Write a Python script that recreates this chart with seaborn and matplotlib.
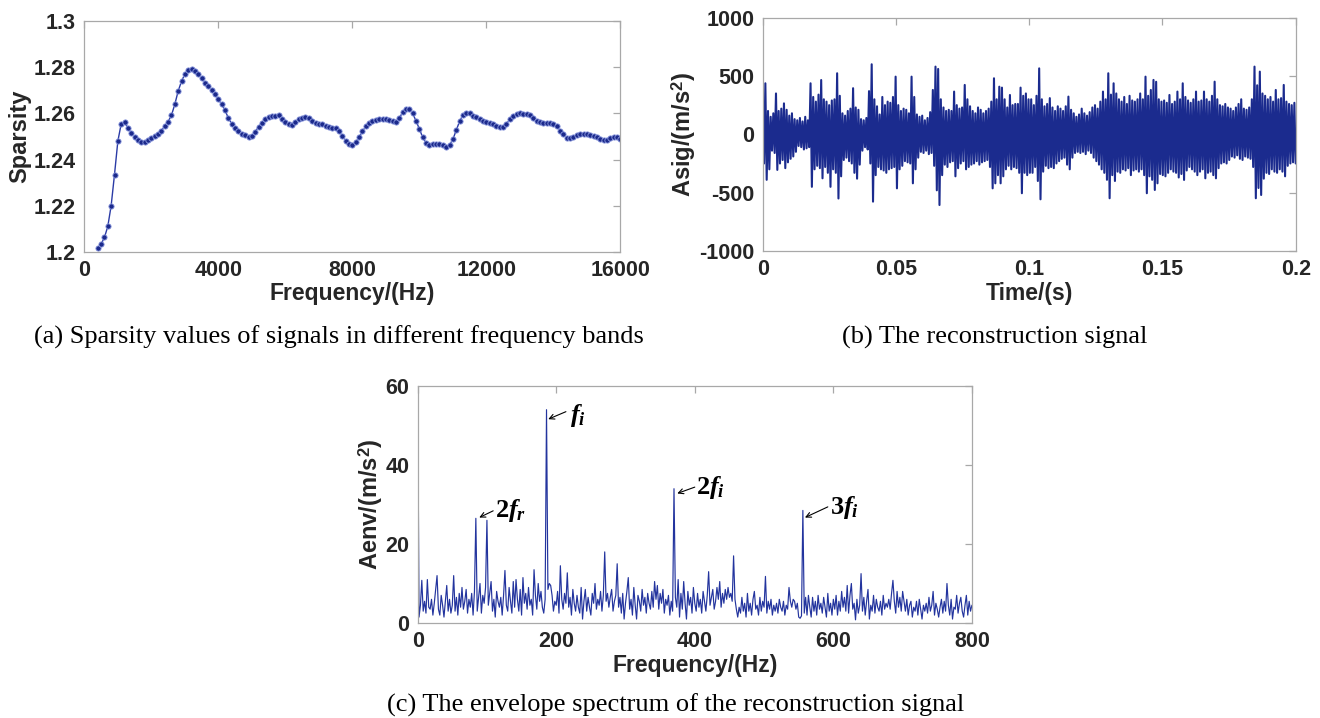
import numpy as np
import pandas as pd
import matplotlib
matplotlib.use('Agg')
import matplotlib.pyplot as plt
import seaborn as sns
from matplotlib.ticker import FormatStrFormatter

# (a) sparsity per frequency band, bands every 100 Hz from 400 Hz
sparsity = [
    1.2015, 1.2033, 1.2062, 1.2110, 1.2200, 1.2335, 1.2480, 1.2555, 1.2562, 1.2538,
    1.2515, 1.2498, 1.2485, 1.2477, 1.2475, 1.2484, 1.2493, 1.2501, 1.2511, 1.2526,
    1.2545, 1.2565, 1.2592, 1.2640, 1.2697, 1.2740, 1.2771, 1.2790, 1.2795, 1.2784,
    1.2771, 1.2753, 1.2734, 1.2720, 1.2703, 1.2683, 1.2661, 1.2640, 1.2613, 1.2580,
    1.2555, 1.2535, 1.2523, 1.2513, 1.2505, 1.2499, 1.2502, 1.2521, 1.2542, 1.2560,
    1.2575, 1.2585, 1.2590, 1.2591, 1.2593, 1.2578, 1.2562, 1.2553, 1.2552, 1.2564,
    1.2575, 1.2582, 1.2586, 1.2582, 1.2569, 1.2560, 1.2556, 1.2553, 1.2547, 1.2542,
    1.2539, 1.2536, 1.2525, 1.2503, 1.2482, 1.2468, 1.2465,
    1.2475, 1.2497, 1.2522, 1.2544, 1.2559, 1.2566, 1.2571, 1.2574, 1.2574, 1.2574,
    1.2572, 1.2568, 1.2565, 1.2580, 1.2605, 1.2620, 1.2620, 1.2600, 1.2568, 1.2533,
    1.2496, 1.2472, 1.2462, 1.2466, 1.2469, 1.2469, 1.2465, 1.2455, 1.2463, 1.2488,
    1.2527, 1.2566, 1.2594, 1.2602, 1.2601, 1.2591, 1.2583, 1.2575, 1.2569, 1.2564,
    1.2559, 1.2553, 1.2546, 1.2542, 1.2543, 1.2556, 1.2574, 1.2590, 1.2598, 1.2600,
    1.2598, 1.2596, 1.2593, 1.2581, 1.2569, 1.2561, 1.2557, 1.2560, 1.2558, 1.2555,
    1.2545, 1.2526, 1.2509, 1.2493, 1.2494, 1.2500, 1.2506, 1.2512, 1.2511, 1.2509,
    1.2506, 1.2503, 1.2497, 1.2490, 1.2484, 1.2486, 1.2495, 1.2500, 1.2497, 1.2490,
]

# (b) reconstruction signal: positive and negative swings, one pair per ms
sig_top = [
    300, 437, 200, 150, 180, 350, 200, 220, 265, 210,
    160, 180, 130, 120, 140, 110, 150, 120, 437, 320,
    280, 340, 465, 300, 280, 250, 290, 300, 523, 330,
    180, 160, 200, 220, 395, 230, 210, 130, 120, 140,
    370, 600, 300, 240, 170, 320, 250, 280, 270, 320,
    494, 250, 200, 220, 210, 180, 494, 320, 170, 150,
    160, 120, 140, 190, 380, 580, 560, 300, 230, 200,
    210, 200, 366, 250, 220, 230, 423, 300, 240, 200,
    180, 230, 210, 180, 200, 220, 280, 480, 300, 408,
    400, 300, 230, 337, 250, 260, 260, 400, 330, 350,
    300, 300, 250, 330, 565, 300, 240, 260, 310, 230,
    200, 240, 220, 200, 240, 323, 210, 180, 150, 170,
    220, 180, 160, 190, 230, 250, 220, 280, 366, 300,
    523, 340, 437, 350, 300, 280, 320, 260, 330, 290,
    280, 300, 350, 300, 494, 330, 380, 466, 450, 300,
    280, 290, 270, 337, 260, 280, 366, 300, 437, 320,
    290, 270, 300, 366, 280, 290, 366, 300, 280, 330,
    451, 300, 250, 240, 260, 230, 220, 200, 230, 260,
    300, 220, 210, 230, 300, 580, 420, 537, 350, 330,
    300, 320, 280, 380, 300, 310, 423, 280, 260, 250,
    270,
]
sig_bot = [
    250, 390, 300, 140, 160, 305, 250, 220, 290, 240,
    210, 190, 150, 100, 110, 130, 120, 110, 450, 300,
    270, 290, 377, 280, 330, 450, 300, 330, 550, 360,
    220, 200, 230, 250, 330, 380, 260, 140, 110, 130,
    250, 577, 350, 280, 300, 310, 330, 300, 290, 280,
    463, 300, 270, 230, 240, 250, 420, 300, 200, 150,
    160, 140, 170, 160, 270, 480, 606, 350, 260, 280,
    240, 230, 360, 290, 250, 230, 300, 280, 260, 250,
    230, 260, 240, 230, 220, 280, 463, 420, 350, 420,
    360, 300, 270, 300, 280, 290, 330, 505, 330, 350,
    330, 330, 280, 400, 557, 320, 270, 290, 280, 290,
    250, 230, 210, 200, 260, 300, 200, 160, 150, 160,
    150, 170, 140, 160, 200, 230, 260, 300, 330, 390,
    548, 350, 400, 320, 330, 300, 310, 290, 350, 310,
    300, 320, 300, 350, 505, 360, 390, 477, 420, 340,
    350, 360, 330, 300, 320, 330, 370, 340, 391, 310,
    280, 300, 320, 350, 320, 300, 377, 330, 320, 350,
    377, 290, 250, 240, 250, 220, 190, 200, 180, 210,
    220, 190, 200, 210, 280, 548, 460, 520, 380, 330,
    340, 300, 320, 330, 300, 320, 360, 270, 250, 240,
    250,
]

# (c) envelope spectrum, 2 Hz bins from 0 to 800 Hz
aenv = [
    62, 1.5, 4.5, 10.8, 3.0, 5.5, 2.5, 11.0, 4.0, 3.5,
    6.0, 2.0, 5.0, 8.5, 12.0, 3.5, 2.0, 7.0, 4.5, 1.5,
    5.5, 9.5, 3.0, 6.0, 2.5, 4.5, 12.0, 3.0, 6.5, 2.0,
    7.5, 4.0, 9.0, 3.5, 5.5, 8.5, 2.5, 6.0, 4.0, 7.5,
    2.0, 8.0, 26.5, 3.0, 6.5, 10.0, 2.5, 7.0, 5.0, 9.0,
    26.0, 4.5, 7.5, 10.5, 3.0, 6.0, 1.5, 8.0, 5.5, 4.0,
    6.5, 2.0, 7.0, 13.3, 4.5, 3.0, 9.0, 5.5, 2.5, 10.5,
    4.0, 11.0, 6.0, 3.0, 8.5, 2.0, 11.5, 5.0, 7.5, 3.5,
    9.0, 4.5, 6.0, 2.0, 13.5, 7.0, 3.5, 10.0, 5.5, 8.0,
    4.0, 2.5, 6.0, 54.0, 8.5, 10.0, 9.5, 7.0, 3.0, 5.5,
    4.5, 8.0, 2.5, 14.5, 6.0, 3.5, 7.5, 5.0, 12.7, 4.0,
    6.5, 2.0, 8.5, 5.0, 3.0, 7.0, 4.0, 2.5, 9.0, 1.0,
    5.5, 8.5, 3.0, 6.5, 4.0, 2.0, 7.5, 5.0, 10.0, 3.5,
    6.0, 4.5, 8.0, 3.0, 7.0, 18.0, 5.5, 7.5, 4.0, 6.5,
    8.5, 3.0, 5.5, 7.0, 15.0, 4.0, 6.5, 2.5, 7.5, 1.0,
    5.0, 8.0, 11.5, 3.5, 6.0, 2.0, 9.0, 4.5, 1.0, 7.0,
    5.5, 3.0, 8.5, 4.5, 6.5, 2.5, 7.5, 5.0, 3.5, 8.0,
    4.0, 10.5, 6.0, 9.5, 3.5, 7.5, 5.0, 8.5, 2.5, 6.0,
    4.5, 7.0, 2.0, 5.5, 3.0, 34.0, 6.5, 4.0, 11.0, 1.5,
    7.5, 3.5, 10.5, 5.0, 1.0, 8.0, 4.5, 6.5, 2.5, 9.0,
    5.0, 3.0, 7.5, 4.0, 6.0, 2.5, 8.0, 5.5, 3.0, 7.0,
    13.0, 4.5, 6.5, 8.5, 3.5, 5.5, 9.0, 6.0, 10.5, 4.0,
    7.5, 5.0, 8.5, 6.0, 9.0, 6.5, 7.5, 5.5, 17.0, 6.0,
    3.5, 1.5, 4.0, 2.5, 6.5, 3.0, 5.0, 1.5, 7.5, 3.0,
    5.0, 2.0, 6.0, 8.0, 3.5, 4.5, 2.0, 6.5, 3.0, 5.5,
    4.0, 11.8, 2.5, 5.5, 3.5, 6.0, 2.0, 4.5, 3.0, 5.0,
    2.5, 6.0, 4.0, 3.0, 5.5, 2.0, 4.5, 3.5, 9.0, 5.5,
    4.0, 6.0, 5.5, 3.5, 5.0, 1.5, 1.2, 1.8, 28.5, 2.5,
    6.5, 2.0, 7.0, 4.0, 1.5, 6.5, 3.0, 5.5, 2.0, 7.0,
    3.5, 5.0, 2.5, 6.5, 4.0, 1.5, 7.5, 3.0, 5.0, 2.0,
    6.0, 3.5, 7.0, 2.0, 5.5, 3.0, 8.0, 4.0, 6.5, 3.0,
    9.5, 2.5, 7.0, 10.0, 3.5, 5.0, 0.8, 6.0, 2.5, 4.5,
    12.5, 3.0, 6.5, 2.0, 5.5, 8.5, 1.0, 4.5, 3.0, 7.0,
    2.5, 6.0, 4.0, 3.0, 5.5, 2.0, 7.0, 3.5, 5.0, 4.0,
    6.0, 3.5, 7.5, 10.8, 5.5, 2.5, 8.0, 4.0, 6.5, 3.0,
    8.0, 5.5, 3.0, 6.0, 2.0, 4.5, 5.5, 1.5, 4.0, 3.0,
    5.5, 2.0, 6.0, 3.5, 1.0, 4.5, 3.0, 5.0, 2.5, 6.5,
    3.0, 4.5, 8.0, 2.0, 5.0, 3.5, 1.5, 4.0, 6.0, 2.5,
    5.5, 3.0, 10.0, 4.5, 2.0, 6.0, 1.0, 4.0, 3.5, 7.0,
    2.5, 5.0, 6.5, 3.0, 1.5, 4.5, 7.0, 2.0, 5.5, 3.0,
    4.5,
]

# annotation labels: (text, arrow head, arrow tail, text position)
peak_notes = [
    (r'$f_i$', (188.5, 51.6), (214, 53.5), (220, 51.0)),
    (r'$2f_r$', (88.9, 26.7), (109, 28.4), (112, 26.8)),
    (r'$2f_i$', (374.7, 32.8), (400, 34.4), (402, 32.7)),
    (r'$3f_i$', (559, 26.7), (592, 29.4), (595, 27.7)),
]

captions = [
    '(a) Sparsity values of signals in different frequency bands',
    '(b) The reconstruction signal',
    '(c) The envelope spectrum of the reconstruction signal',
]

# --- tables ---
df_a = pd.DataFrame({'freq': 400 + 100 * np.arange(len(sparsity)), 'sparsity': sparsity})

n = min(len(sig_top), len(sig_bot))
sig = np.empty(2 * n)
sig[0::2] = np.array(sig_top[:n])
sig[1::2] = -np.array(sig_bot[:n])
df_b = pd.DataFrame({'t': np.linspace(0, 0.2, 2 * n), 'asig': sig})

df_c = pd.DataFrame({'freq': 2 * np.arange(len(aenv)), 'aenv': aenv})

# --- style ---
sns.set_theme(style='white')
plt.rcParams['font.family'] = ['Liberation Sans', 'DejaVu Sans']
plt.rcParams['font.weight'] = 'bold'
plt.rcParams['axes.labelweight'] = 'bold'
plt.rcParams['axes.unicode_minus'] = False
plt.rcParams['mathtext.fontset'] = 'custom'
plt.rcParams['mathtext.rm'] = 'Liberation Serif:bold'
plt.rcParams['mathtext.it'] = 'Liberation Serif:italic:bold'
plt.rcParams['mathtext.bf'] = 'Liberation Serif:bold'
plt.rcParams['mathtext.sf'] = 'Liberation Sans:bold'

txt_col = '#262626'
box_col = '#a8a8a8'

fig = plt.figure(figsize=(13.2, 7.18), dpi=100)
ax_a = fig.add_axes([0.0639, 0.6494, 0.4061, 0.3209])
ax_b = fig.add_axes([0.5778, 0.6504, 0.4038, 0.3251])
ax_c = fig.add_axes([0.3164, 0.1323, 0.4199, 0.3301])


def matlab_box(ax):
    for s in ax.spines.values():
        s.set_color(box_col)
        s.set_linewidth(0.9)
    ax.tick_params(direction='in', length=5, width=0.9, color=box_col,
                   top=True, right=True, labelsize=15.5, labelcolor=txt_col, pad=6)
    ax.xaxis.label.set_color(txt_col)
    ax.yaxis.label.set_color(txt_col)


# (a)
sns.lineplot(data=df_a, x='freq', y='sparsity', ax=ax_a, color='#2b3ba6', lw=1.0,
             marker='o', markersize=3.8, markerfacecolor='#1c2a8c',
             markeredgecolor='#8e9ce0', markeredgewidth=0.6)
ax_a.set_xlim(0, 16000)
ax_a.set_ylim(1.2, 1.3)
ax_a.set_xticks([0, 4000, 8000, 12000, 16000])
ax_a.set_yticks([1.2, 1.22, 1.24, 1.26, 1.28, 1.3])
ax_a.yaxis.set_major_formatter(FormatStrFormatter('%g'))
ax_a.set_xlabel('Frequency/(Hz)', fontsize=16.5, labelpad=1)
ax_a.set_ylabel('Sparsity', fontsize=17, labelpad=2)
matlab_box(ax_a)

# (b)
sns.lineplot(data=df_b, x='t', y='asig', ax=ax_b, color='#1b2b8e', lw=1.5,
             estimator=None, sort=False)
ax_b.set_xlim(0, 0.2)
ax_b.set_ylim(-1000, 1000)
ax_b.set_xticks([0, 0.05, 0.1, 0.15, 0.2])
ax_b.set_yticks([-1000, -500, 0, 500, 1000])
ax_b.xaxis.set_major_formatter(FormatStrFormatter('%g'))
ax_b.set_xlabel('Time/(s)', fontsize=16.5, labelpad=1)
ax_b.set_ylabel(r'Asig/(m/s$^\mathsf{2}$)', fontsize=17, labelpad=1)
matlab_box(ax_b)

# (c)
sns.lineplot(data=df_c, x='freq', y='aenv', ax=ax_c, color='#23349e', lw=0.85)
ax_c.set_xlim(0, 800)
ax_c.set_ylim(0, 60)
ax_c.set_xticks([0, 200, 400, 600, 800])
ax_c.set_yticks([0, 20, 40, 60])
ax_c.set_xlabel('Frequency/(Hz)', fontsize=16.5, labelpad=1)
ax_c.set_ylabel(r'Aenv/(m/s$^\mathsf{2}$)', fontsize=17, labelpad=0)
matlab_box(ax_c)

for label, head, tail, pos in peak_notes:
    ax_c.annotate('', xy=head, xytext=tail,
                  arrowprops=dict(arrowstyle='->', color='black', lw=0.8,
                                  mutation_scale=9, shrinkA=0, shrinkB=0))
    ax_c.text(pos[0], pos[1], label, fontsize=19, color='black',
              ha='left', va='baseline')

# captions
cap_pos = [(0.2568, 0.5306), (0.7538, 0.5306), (0.5121, 0.0181)]
for cap, (cx, cy) in zip(captions, cap_pos):
    fig.text(cx, cy, cap, family='Liberation Serif', fontsize=19,
             fontweight='normal', color='black', ha='center', va='center')

fig.savefig('out.png', dpi=100, facecolor='white')
